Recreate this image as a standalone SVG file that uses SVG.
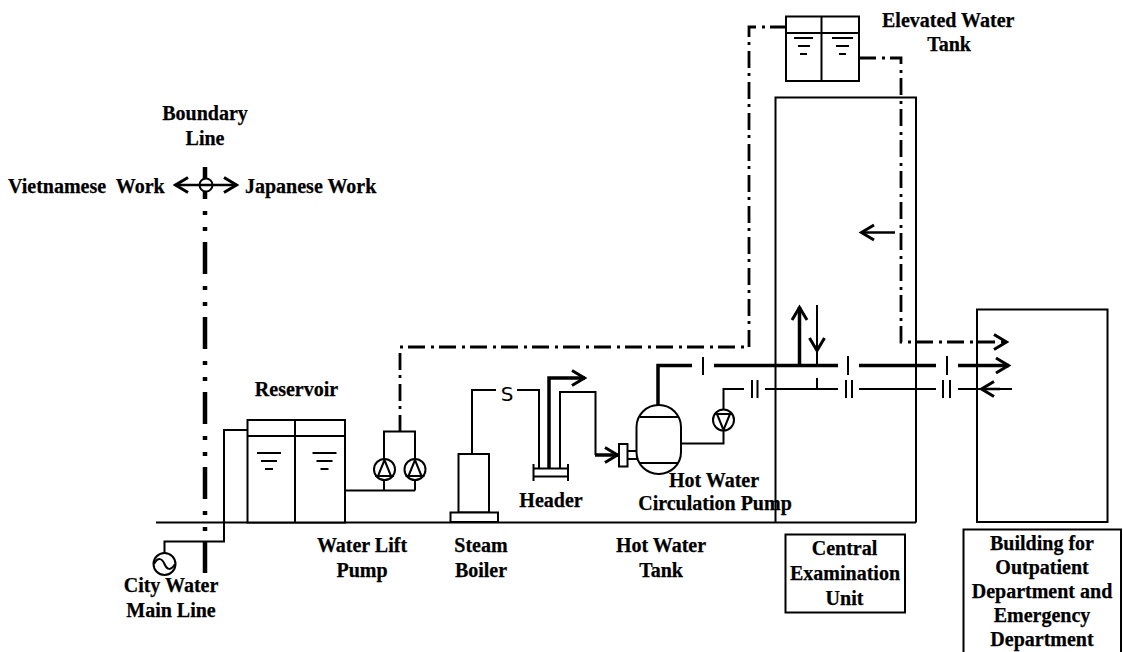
<svg xmlns="http://www.w3.org/2000/svg" width="1123" height="652" viewBox="0 0 1123 652">
<style>
text{font-family:"Liberation Serif","Times New Roman",serif;font-weight:bold;font-size:20px;fill:#000;stroke:#000;stroke-width:.25;text-anchor:middle}
.l{text-anchor:start}
.s{fill:none;stroke:#000;stroke-width:2}
.f{fill:#fff;stroke:#000;stroke-width:2}
.t{fill:none;stroke:#000;stroke-width:3.5}
.m{fill:none;stroke:#000;stroke-width:2.5}
.d{fill:none;stroke:#000;stroke-width:2.8;stroke-dasharray:17 6 3 5}
.b{fill:none;stroke:#000;stroke-width:4.5;stroke-dasharray:32 12 4 12 4 11}
</style>
<defs>
<marker id="a" markerUnits="userSpaceOnUse" markerWidth="30" markerHeight="24" refX="16" refY="12" orient="auto"><path d="M3 4.500 L15.500 12 L3 19.500" fill="none" stroke="#000" stroke-width="3"/></marker>
<g id="lvl"><path class="s" d="M-12 0H12M-8 8H8M-4 16H4"/></g>
</defs>
<rect width="1123" height="652" fill="#fff"/>
<g id="ground"><path class="s" d="M156 522.500H916"/></g>
<g id="boundary-line">
<path class="b" d="M205 167V573"/>
<circle class="f" cx="206" cy="185" r="6.500"/>
</g>
<g id="connectors">
<path class="s" d="M164.500 553V541.500H224V430H247.500"/>
<path class="s" d="M345 490.500H415M384 490.500V431.500H415V490.500"/>
<path class="d" d="M400 432V347H749V27H786"/>
<path class="d" d="M859 58H901V342H1007" marker-end="url(#a)"/>
<path class="s" d="M472 454V390H496M517 390H539V468"/>
<path class="t" d="M549 468V378H585" marker-end="url(#a)"/>
<path class="s" d="M560 468V392H595.500V455"/>
<path class="t" d="M595 455H618" marker-end="url(#a)"/>
<path class="t" d="M658 405V365.500H692M714 365.500H838M859 365.500H936"/>
<path class="t" d="M958 365.500H1009" marker-end="url(#a)"/>
<path class="s" d="M703 357V375M848 356V375M947 356V375"/>
<path class="t" d="M799.500 365V307" marker-end="url(#a)"/>
<path class="s" d="M817 305V351" marker-end="url(#a)"/>
<path class="s" d="M817 350V365"/>
<path class="s" d="M817 378V389"/>
<path class="s" d="M681 443.500H723.500V431M723.500 409V389H744M765 389H838M859 389H936M958 389H1012"/>
<path class="s" d="M752 380V398M757.500 380V398M846 380V398M852 380V398M943 380V398M950 380V398"/>
<path class="m" d="M1000 389H981" marker-end="url(#a)"/>
<path class="m" d="M895 232.500H861" marker-end="url(#a)"/>
<path class="m" d="M205 185H237" marker-end="url(#a)"/>
<path class="m" d="M205 185H175" marker-end="url(#a)"/>
</g>
<g id="reservoir">
<rect class="f" x="247.500" y="420" width="97.500" height="102.500"/>
<path class="s" d="M295 420V522.500M247.500 436H345"/>
<use href="#lvl" x="269" y="453"/><use href="#lvl" x="324.500" y="453"/>
</g>
<g id="water-lift-pump">
<circle class="f" cx="384.500" cy="469.500" r="10.500"/><path class="s" d="M378 476L384.500 460L391 476M375 476H394"/>
<circle class="f" cx="415" cy="469.500" r="10.500"/><path class="s" d="M408.500 476L415 460L421.500 476M405.500 476H424.500"/>
</g>
<g id="city-water"><circle class="f" cx="164.500" cy="564" r="11"/><path class="s" d="M154 564C158 557 162 558 164.500 564S171 571 175 564"/></g>
<g id="steam-boiler"><rect class="f" x="458.500" y="454" width="30.500" height="58.500"/><rect class="f" x="450.500" y="512.500" width="47.500" height="9.500"/></g>
<g id="header"><path class="s" d="M533.500 464V481M568 464V481M533.500 468.500H568M533.500 476.500H568"/></g>
<g id="hot-water-tank">
<rect class="f" x="636.500" y="405" width="44.500" height="69" rx="22" ry="22"/>
<path class="s" d="M640 417H678M640 463H678M627 451H637M627 459H637"/>
<rect class="f" x="619" y="444" width="8.500" height="22.500"/>
</g>
<g id="circulation-pump"><circle class="f" cx="723.500" cy="420" r="10.500"/><path class="s" d="M717 414L723.500 430L730 414M714 414H733"/></g>
<g id="elevated-water-tank">
<rect class="f" x="786" y="16.500" width="73" height="64.500"/>
<path class="s" d="M821.500 16.500V81M786 33H859"/>
<path class="s" d="M794 38H813M798 46H810M800 54H807M832 38H853M836 46H849M839 54H846"/>
</g>
<g id="central-building"><path class="s" d="M775.500 522.500V97.500H916V522.500"/></g>
<g id="outpatient-building"><rect class="s" x="977" y="309.500" width="130.500" height="212.500"/></g>
<g id="central-label"><rect class="s" x="785.500" y="534.500" width="119.500" height="78"/>
<text x="844.500" y="555">Central</text><text x="845" y="580">Examination</text><text x="844.500" y="605">Unit</text></g>
<g id="outpatient-label"><path class="s" d="M963.500 652V529.500H1121V652"/>
<text x="1042" y="550">Building for</text><text x="1042" y="574">Outpatient</text><text x="1042" y="598">Department and</text><text x="1042" y="622">Emergency</text><text x="1042" y="646">Department</text></g>
<g id="labels">
<text x="205" y="120">Boundary</text><text x="205" y="145">Line</text>
<text class="l" x="8" y="193" xml:space="preserve">Vietnamese  Work</text>
<text class="l" x="245" y="193">Japanese Work</text>
<text x="296.500" y="396">Reservoir</text>
<text x="362" y="552">Water Lift</text><text x="362" y="577">Pump</text>
<text x="481" y="552">Steam</text><text x="481" y="577">Boiler</text>
<text x="171" y="592">City Water</text><text x="171" y="617">Main Line</text>
<text x="551" y="507">Header</text>
<text x="714" y="487">Hot Water</text><text x="715" y="510">Circulation Pump</text>
<text x="661" y="552">Hot Water</text><text x="661" y="577">Tank</text>
<text class="l" x="882" y="27">Elevated Water</text><text x="949" y="51">Tank</text>
<text x="507" y="401" style="font-family:'DejaVu Sans',sans-serif;font-weight:normal;stroke:none;font-size:20px">S</text>
</g>
</svg>
